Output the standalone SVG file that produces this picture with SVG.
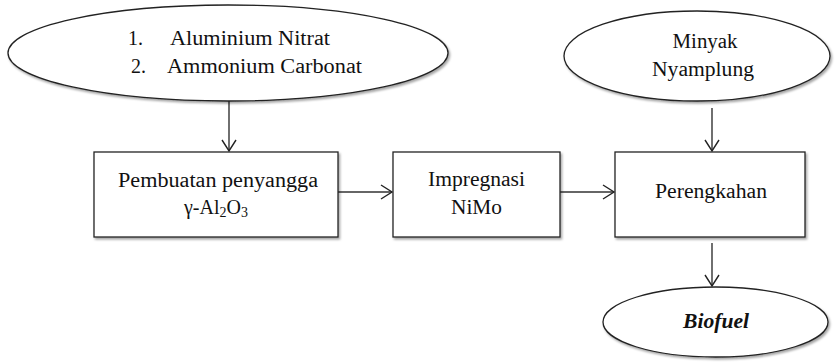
<svg xmlns="http://www.w3.org/2000/svg" width="835" height="363" viewBox="0 0 835 363">
  <defs>
    <filter id="shade" x="-10%" y="-10%" width="120%" height="130%">
      <feDropShadow dx="1.5" dy="2" stdDeviation="1.2" flood-color="#000" flood-opacity="0.35"/>
    </filter>
    <marker id="head" markerUnits="userSpaceOnUse" markerWidth="16" markerHeight="18" refX="12" refY="8" orient="auto">
      <path d="M1,1 L12,8 L1,15" fill="none" stroke="#222" stroke-width="1.4"/>
    </marker>
  </defs>
  <style>
    .shape { fill: #fff; stroke: #222; stroke-width: 1.3; filter: url(#shade); }
    text { font-family: 'Liberation Serif', 'Times New Roman', serif; font-size: 20px; fill: #111; }
    .mid { text-anchor: middle; }
    .link { fill: none; stroke: #333; stroke-width: 1.4; marker-end: url(#head); }
  </style>
  <rect width="835" height="363" fill="#fff"/>

  <g id="connectors">
    <line class="link" x1="229" y1="101" x2="229" y2="151"/>
    <line class="link" x1="712" y1="108" x2="712" y2="151"/>
    <line class="link" x1="338" y1="192" x2="392" y2="192"/>
    <line class="link" x1="560" y1="192" x2="614" y2="192"/>
    <line class="link" x1="712" y1="243" x2="712" y2="286"/>
  </g>

  <g id="bahan-baku">
    <ellipse class="shape" cx="228" cy="53" rx="220" ry="48"/>
    <text x="128" y="45">1.</text>
    <text x="170" y="45" textLength="160" lengthAdjust="spacingAndGlyphs">Aluminium Nitrat</text>
    <text x="131" y="73">2.</text>
    <text x="167" y="73" textLength="195" lengthAdjust="spacingAndGlyphs">Ammonium Carbonat</text>
  </g>

  <g id="minyak">
    <ellipse class="shape" cx="697" cy="56" rx="133" ry="45"/>
    <text class="mid" x="705" y="48" textLength="65" lengthAdjust="spacingAndGlyphs">Minyak</text>
    <text class="mid" x="703" y="76" textLength="102" lengthAdjust="spacingAndGlyphs">Nyamplung</text>
  </g>

  <g id="penyangga">
    <rect class="shape" x="94" y="152" width="244" height="85"/>
    <text class="mid" x="218" y="187" textLength="200" lengthAdjust="spacingAndGlyphs">Pembuatan penyangga</text>
    <text class="mid" x="216" y="214">γ-Al<tspan font-size="14" dy="3">2</tspan><tspan dy="-3">O</tspan><tspan font-size="14" dy="3">3</tspan></text>
  </g>

  <g id="impregnasi">
    <rect class="shape" x="393" y="152" width="167" height="85"/>
    <text class="mid" x="476.5" y="186" textLength="97" lengthAdjust="spacingAndGlyphs">Impregnasi</text>
    <text class="mid" x="476.5" y="214" textLength="51" lengthAdjust="spacingAndGlyphs">NiMo</text>
  </g>

  <g id="perengkahan">
    <rect class="shape" x="615" y="152" width="190" height="85"/>
    <text class="mid" x="711" y="198" textLength="112" lengthAdjust="spacingAndGlyphs">Perengkahan</text>
  </g>

  <g id="biofuel">
    <ellipse class="shape" cx="715.5" cy="322" rx="112.5" ry="35"/>
    <text class="mid" x="716" y="328" font-weight="bold" font-style="italic" textLength="66" lengthAdjust="spacingAndGlyphs">Biofuel</text>
  </g>
</svg>
